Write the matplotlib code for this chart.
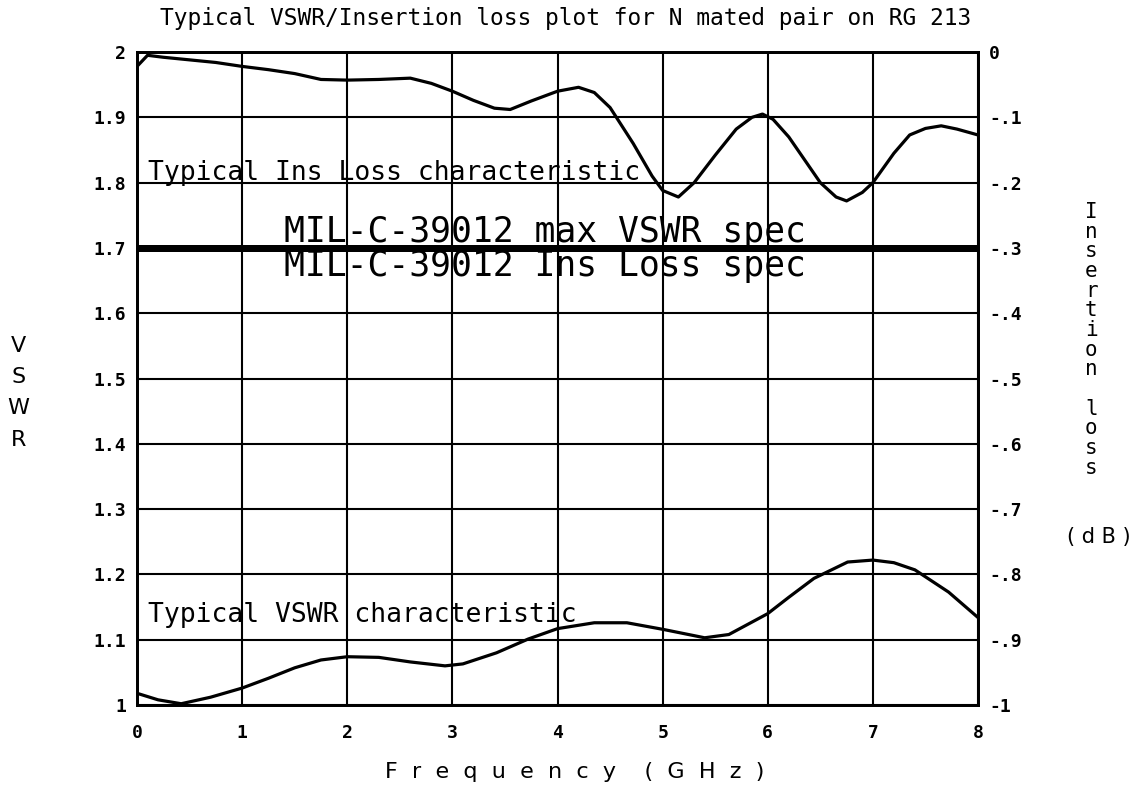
import matplotlib
matplotlib.use('Agg')
import matplotlib.pyplot as plt

# Insertion loss curve (right axis, dB)
il_freq = [0.0, 0.1, 0.25, 0.5, 0.75, 1.0, 1.25, 1.5, 1.75, 2.0, 2.3, 2.6, 2.8, 3.0,
           3.2, 3.4, 3.55, 3.75, 4.0, 4.2, 4.35, 4.5, 4.72, 4.9, 5.0, 5.15, 5.3, 5.5,
           5.7, 5.85, 5.95, 6.05, 6.2, 6.35, 6.5, 6.65, 6.75, 6.9, 7.0, 7.2, 7.35,
           7.5, 7.65, 7.8, 8.0]
il_db = [-0.022, -0.005, -0.008, -0.012, -0.016, -0.022, -0.027, -0.033, -0.042,
         -0.043, -0.042, -0.040, -0.048, -0.060, -0.074, -0.086, -0.088, -0.075,
         -0.060, -0.054, -0.062, -0.085, -0.140, -0.190, -0.212, -0.222, -0.200,
         -0.158, -0.118, -0.100, -0.095, -0.103, -0.130, -0.165, -0.200, -0.222,
         -0.228, -0.215, -0.200, -0.155, -0.127, -0.117, -0.113, -0.118, -0.127]

# VSWR curve (left axis)
vswr_freq = [0.0, 0.2, 0.42, 0.7, 1.0, 1.25, 1.5, 1.75, 2.0, 2.3, 2.6, 2.93, 3.1,
             3.42, 3.72, 4.0, 4.35, 4.66, 5.0, 5.4, 5.63, 6.0, 6.2, 6.44, 6.76, 7.0,
             7.2, 7.4, 7.72, 8.0]
vswr = [1.018, 1.008, 1.002, 1.012, 1.026, 1.041, 1.057, 1.069, 1.074, 1.073,
        1.066, 1.060, 1.063, 1.080, 1.101, 1.117, 1.126, 1.126, 1.116, 1.103,
        1.108, 1.140, 1.165, 1.194, 1.219, 1.222, 1.218, 1.207, 1.173, 1.134]

vswr_spec = 1.7
il_spec = -0.3

x_ticks = [0, 1, 2, 3, 4, 5, 6, 7, 8]
x_labels = ['0', '1', '2', '3', '4', '5', '6', '7', '8']
left_ticks = [1.0, 1.1, 1.2, 1.3, 1.4, 1.5, 1.6, 1.7, 1.8, 1.9, 2.0]
left_labels = ['1', '1.1', '1.2', '1.3', '1.4', '1.5', '1.6', '1.7', '1.8', '1.9', '2']
right_ticks = [-1.0, -0.9, -0.8, -0.7, -0.6, -0.5, -0.4, -0.3, -0.2, -0.1, 0.0]
right_labels = ['-1', '-.9', '-.8', '-.7', '-.6', '-.5', '-.4', '-.3', '-.2', '-.1', '0']

mono = 'DejaVu Sans Mono'
sans = 'DejaVu Sans'

fig = plt.figure(figsize=(11.38, 7.92), dpi=100)
ax = fig.add_axes([0.1204, 0.1098, 0.7390, 0.8245])
ax2 = ax.twinx()

ax.set_xlim(0, 8)
ax.set_ylim(1, 2)
ax2.set_ylim(-1, 0)

ax.set_xticks(x_ticks)
ax.set_xticklabels(x_labels, fontfamily=mono, fontsize=13, fontweight='bold')
ax.set_yticks(left_ticks)
ax.set_yticklabels(left_labels, fontfamily=mono, fontsize=13, fontweight='bold')
ax2.set_yticks(right_ticks)
ax2.set_yticklabels(right_labels, fontfamily=mono, fontsize=13, fontweight='bold')
ax.tick_params(axis='y', length=0, pad=8)
ax.tick_params(axis='x', length=0, pad=14)
ax2.tick_params(length=0, pad=8)

ax.grid(True, color='black', linewidth=1.5)
for a in (ax, ax2):
    for s in a.spines.values():
        s.set_linewidth(2)

ax.plot(vswr_freq, vswr, color='black', linewidth=2.3, zorder=3)
ax2.plot(il_freq, il_db, color='black', linewidth=2.3, zorder=3)
ax.axhline(vswr_spec, color='black', linewidth=5, zorder=4)
ax2.axhline(il_spec, color='black', linewidth=5, zorder=4)

ax.text(0.1, 1.815, 'Typical Ins Loss characteristic', fontfamily=mono,
        fontsize=19, va='center', ha='left', zorder=5)
ax.text(0.1, 1.138, 'Typical VSWR characteristic', fontfamily=mono,
        fontsize=19, va='center', ha='left', zorder=5)
ax.text(1.4, 1.724, 'MIL-C-39012 max VSWR spec', fontfamily=mono,
        fontsize=25, va='center', ha='left', zorder=5)
ax.text(1.4, 1.673, 'MIL-C-39012 Ins Loss spec', fontfamily=mono,
        fontsize=25, va='center', ha='left', zorder=5)

fig.text(0.497, 0.977, 'Typical VSWR/Insertion loss plot for N mated pair on RG 213',
         fontfamily=mono, fontsize=16.5, ha='center', va='center')
fig.text(0.505, 0.025, 'F  r  e  q  u  e  n  c  y    (  G  H  z  )', fontfamily=sans,
         fontsize=16, ha='center', va='center')
fig.text(0.016, 0.504, 'V\nS\nW\nR', fontfamily=sans, fontsize=16,
         ha='center', va='center', linespacing=1.7)
fig.text(0.959, 0.571, 'I\nn\ns\ne\nr\nt\ni\no\nn\n \nl\no\ns\ns', fontfamily=mono,
         fontsize=15, ha='center', va='center', linespacing=0.98)
fig.text(0.966, 0.322, '( d B )', fontfamily=sans, fontsize=15, ha='center', va='center')

fig.savefig('out.png', dpi=100)
